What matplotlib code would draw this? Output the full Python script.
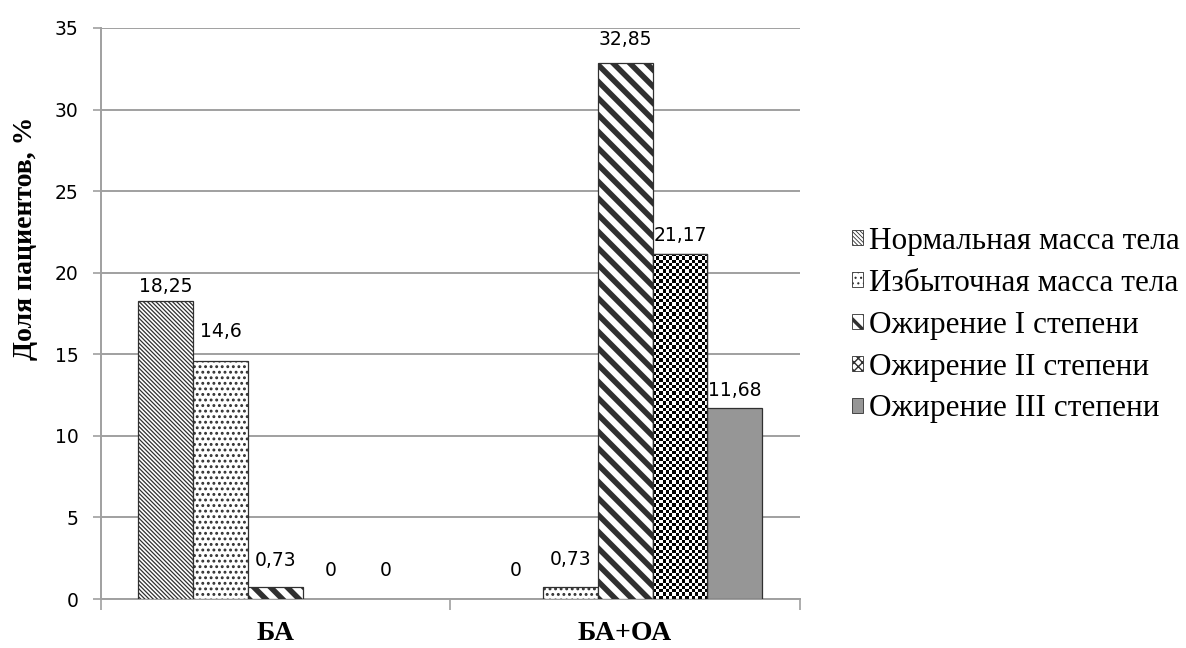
import numpy as np
import matplotlib.pyplot as plt

groups = ["БА", "БА+ОА"]
series = [
    "Нормальная масса тела",
    "Избыточная масса тела",
    "Ожирение I степени",
    "Ожирение II степени",
    "Ожирение III степени",
]
values = [
    [18.25, 0],
    [14.6, 0.73],
    [0.73, 32.85],
    [0, 21.17],
    [0, 11.68],
]
value_labels = [
    ["18,25", "0"],
    ["14,6", "0,73"],
    ["0,73", "32,85"],
    ["0", "21,17"],
    ["0", "11,68"],
]

# zazor nad stolbikom dlja podpisi, v punktah
label_gap = [
    [4, 14],
    [14, 13],
    [12, 10],
    [14, 6],
    [14, 6],
]

hatches = ["\\" * 8, "...", "\\\\", "xxxx", None]
hatch_lw = [0.9, 1.3, 4.0, 1.0, 1.0]
faces = ["white", "white", "white", "white", "#969696"]

num_font = "DejaVu Sans"
serif_font = "Liberation Serif"
grid_col = "#a0a0a0"

fig = plt.figure(figsize=(11.86, 6.48), dpi=100)
ax = fig.add_axes([0.085, 0.0756, 0.5895, 0.8812])

x = np.arange(len(groups))
w = 0.157
bars = []
for i, name in enumerate(series):
    b = ax.bar(x + (i - 2) * w, values[i], width=w, color=faces[i],
               edgecolor="#303030", linewidth=0.9,
               hatch=hatches[i] if i != 3 else None,
               label=name, zorder=3)
    for p in b.patches:
        p.set_hatch_linewidth(hatch_lw[i])
        if p.get_height() == 0:
            p.set_linewidth(0)
    bars.append(b)

ax.set_xlim(-0.5, 1.5)
ax.set_ylim(0, 35)
ax.set_yticks(np.arange(0, 36, 5))

# shahmatnaja zalivka dlja "Ожирение II степени"
fig.canvas.draw()
cell = 3.3  # px
for p in bars[3].patches:
    if p.get_height() <= 0:
        continue
    x0, y0 = p.get_x(), p.get_y()
    x1, y1 = x0 + p.get_width(), y0 + p.get_height()
    (px0, py0), (px1, py1) = ax.transData.transform([(x0, y0), (x1, y1)])
    nc = max(1, int(round((px1 - px0) / cell)))
    nr = max(1, int(round((py1 - py0) / cell)))
    board = (np.add.outer(np.arange(nr), np.arange(nc)) % 2).astype(float)
    im = ax.imshow(board, cmap="gray", vmin=0, vmax=1, extent=(x0, x1, y0, y1),
                   aspect="auto", interpolation="nearest", zorder=3.5)
    im.set_clip_path(p)
    ax.add_patch(plt.Rectangle((x0, y0), x1 - x0, y1 - y0, fill=False,
                               edgecolor="#303030", linewidth=0.9, zorder=4))

for i in range(len(series)):
    for j, p in enumerate(bars[i].patches):
        ax.annotate(value_labels[i][j],
                    (p.get_x() + p.get_width() / 2, p.get_height()),
                    xytext=(0, label_gap[i][j]), textcoords="offset points",
                    ha="center", va="bottom", fontsize=13.5, family=num_font,
                    color="black")

ax.yaxis.grid(True, color=grid_col, linewidth=1.4, zorder=0)
ax.set_axisbelow(True)
for s in ["top", "right"]:
    ax.spines[s].set_visible(False)
for s in ["left", "bottom"]:
    ax.spines[s].set_color(grid_col)
    ax.spines[s].set_linewidth(1.4)

ax.tick_params(axis="y", length=6, width=1.2, color=grid_col, labelsize=13.5, pad=10)
for t in ax.get_yticklabels():
    t.set_family(num_font)

ax.set_xticks([-0.5, 0.5, 1.5])
ax.set_xticklabels([])
ax.tick_params(axis="x", which="major", length=8, width=1.2, color=grid_col)
ax.set_xticks(x, minor=True)
ax.set_xticklabels(groups, minor=True, family=serif_font, fontweight="bold",
                   fontsize=20)
ax.tick_params(axis="x", which="minor", length=0, pad=16)

ax.set_ylabel("Доля пациентов, %", family=serif_font, fontweight="bold",
              fontsize=20)
ax.yaxis.set_label_coords(-0.09, 0.632)

leg = fig.legend(handles=bars, loc="center left", bbox_to_anchor=(0.718, 0.498),
                 frameon=False, prop={"family": serif_font, "size": 22.5},
                 handlelength=0.36, handleheight=0.36, handletextpad=0.2,
                 labelspacing=0.41, borderpad=0, borderaxespad=0)
for i, h in enumerate(leg.get_patches()):
    h.set_hatch(hatches[i])
    h.set_hatch_linewidth([0.6, 0.8, 2.5, 1.0, 1.0][i])
    h.set_linewidth(0.6)

fig.savefig("out.png", dpi=100)
